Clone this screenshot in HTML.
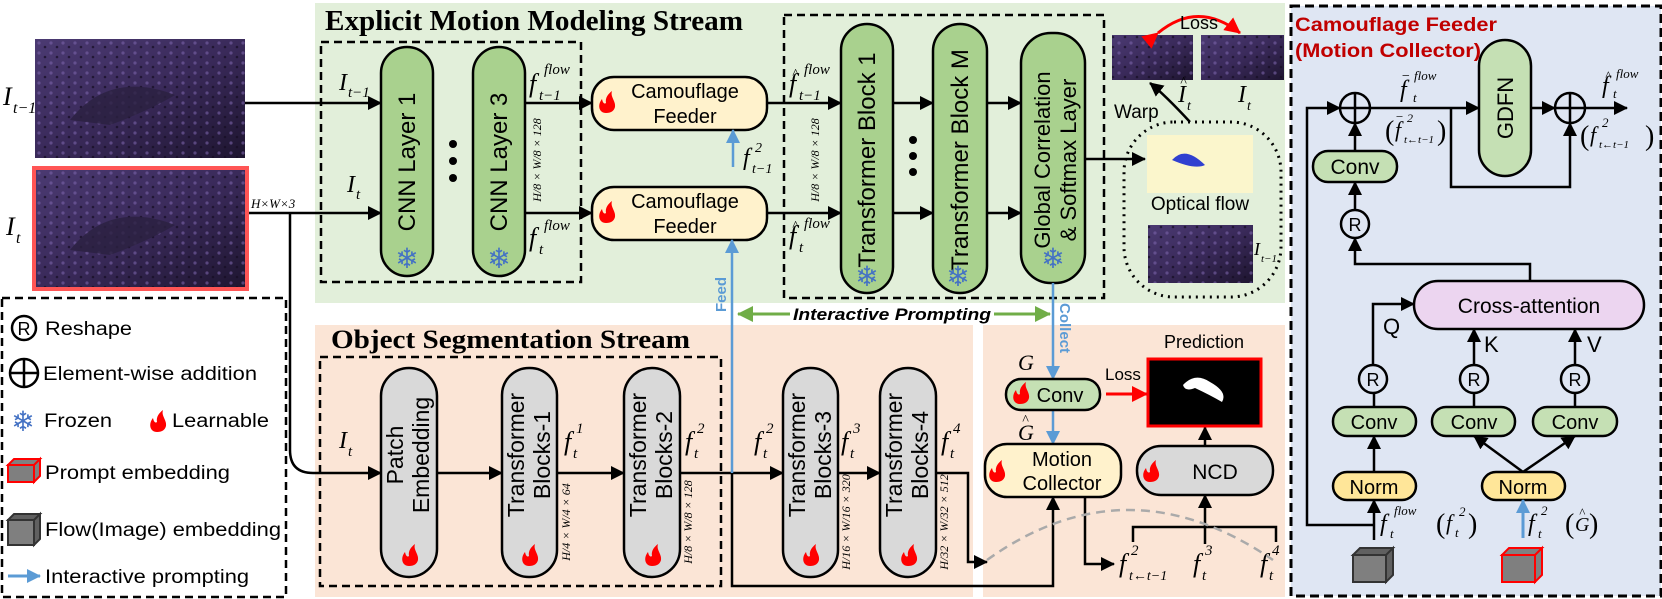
<!DOCTYPE html>
<html><head><meta charset="utf-8"><style>html,body{margin:0;padding:0;background:#fff}svg{display:block}</style></head><body>
<svg width="1662" height="599" viewBox="0 0 1662 599" xmlns="http://www.w3.org/2000/svg" font-family="Liberation Sans, sans-serif">
<defs>
<marker id="a" markerWidth="14" markerHeight="14" refX="13" refY="7" orient="auto" markerUnits="userSpaceOnUse"><path d="M0,0 L14,7 L0,14z" fill="#000"/></marker>
<marker id="b" markerWidth="14" markerHeight="14" refX="13" refY="7" orient="auto" markerUnits="userSpaceOnUse"><path d="M0,0 L14,7 L0,14z" fill="#5b9bd5"/></marker>
<marker id="r" markerWidth="16" markerHeight="16" refX="15" refY="8" orient="auto" markerUnits="userSpaceOnUse"><path d="M0,0 L16,8 L0,16z" fill="#f00"/></marker>
<marker id="g" markerWidth="16" markerHeight="16" refX="15" refY="8" orient="auto" markerUnits="userSpaceOnUse"><path d="M0,0 L16,8 L0,16z" fill="#70ad47"/></marker>
<linearGradient id="ph" x1="0" y1="0" x2="1" y2="1"><stop offset="0" stop-color="#4b3a72"/><stop offset="0.5" stop-color="#3a2a5a"/><stop offset="1" stop-color="#1e1530"/></linearGradient>
<pattern id="tex" width="12" height="10" patternUnits="userSpaceOnUse"><rect width="12" height="10" fill="none"/><circle cx="3" cy="3" r="1.6" fill="#7a62a8" opacity="0.6"/><circle cx="9" cy="7" r="1.3" fill="#150d22" opacity="0.7"/></pattern>
<g id="fire"><path d="M0,0 C-7,0 -9,-8 -4,-14 C-3,-9 -1,-9 0,-10 C-1,-15 2,-19 6,-22 C4,-16 10,-12 9,-6 C8,-2 5,0 0,0Z" fill="#f00"/></g>
</defs>

<rect x="315" y="3" width="970" height="300" fill="#e2efda"/>
<rect x="315" y="325" width="658" height="272" fill="#fbe5d6"/>
<rect x="983" y="325" width="302" height="272" fill="#fbe5d6"/>
<rect x="1291" y="6" width="370" height="590" fill="#dfe6f3" stroke="#000" stroke-width="3" stroke-dasharray="9,5"/>

<rect x="35" y="39" width="210" height="119" fill="url(#ph)"/>
<rect x="35" y="39" width="210" height="119" fill="url(#tex)"/>
<path d="M70,120 Q110,70 175,95 Q150,110 110,125 Z" fill="#2a2040" opacity="0.8"/>
<rect x="34" y="168" width="213" height="121" fill="url(#ph)" stroke="#f55" stroke-width="4"/>
<rect x="36" y="170" width="209" height="117" fill="url(#tex)"/>
<path d="M70,250 Q110,200 175,225 Q150,240 110,255 Z" fill="#2a2040" opacity="0.8"/>
<text x="3" y="105" font-family="Liberation Serif, serif" font-style="italic" font-size="26">I</text>
<text x="13" y="113" font-family="Liberation Serif, serif" font-style="italic" font-size="16">t−1</text>
<text x="6" y="235" font-family="Liberation Serif, serif" font-style="italic" font-size="26">I</text>
<text x="16" y="243" font-family="Liberation Serif, serif" font-style="italic" font-size="16">t</text>
<text x="251" y="208" font-family="Liberation Serif, serif" font-style="italic" font-size="13">H×W×3</text>

<text x="325" y="30" font-family="Liberation Serif, serif" font-weight="bold" font-size="28" textLength="418" lengthAdjust="spacingAndGlyphs">Explicit Motion Modeling Stream</text>
<text x="331" y="348" font-family="Liberation Serif, serif" font-weight="bold" font-size="26" textLength="359" lengthAdjust="spacingAndGlyphs">Object Segmentation Stream</text>

<g fill="none" stroke="#000" stroke-width="2.5" stroke-dasharray="8,5">
<rect x="321" y="42" width="260" height="240"/>
<rect x="784" y="15" width="320" height="283"/>
<rect x="320" y="357" width="401" height="229"/>
<rect x="2" y="298" width="284" height="299"/>
</g>
<rect x="1124" y="122" width="157" height="175" rx="50" fill="none" stroke="#000" stroke-width="3" stroke-dasharray="2,5"/>

<g stroke="#000" stroke-width="2.5">
<rect x="381" y="47" width="52" height="229" rx="26" fill="#a9d18e"/>
<rect x="473" y="47" width="52" height="229" rx="26" fill="#a9d18e"/>
<rect x="841" y="24" width="52" height="269" rx="26" fill="#a9d18e"/>
<rect x="933" y="24" width="54" height="269" rx="27" fill="#a9d18e"/>
<rect x="1021" y="33" width="64" height="250" rx="30" fill="#a9d18e"/>
<rect x="592" y="77" width="175" height="53" rx="22" fill="#fff2cc"/>
<rect x="592" y="187" width="175" height="53" rx="22" fill="#fff2cc"/>
</g>
<g font-size="24" text-anchor="middle">
<text transform="translate(415,162) rotate(-90)">CNN Layer 1</text>
<text transform="translate(507,162) rotate(-90)">CNN Layer 3</text>
<text transform="translate(875,160) rotate(-90)">Transformer Block 1</text>
<text transform="translate(968,160) rotate(-90)">Transformer Block M</text>
<text transform="translate(1050,160) rotate(-90)" font-size="22">Global Correlation</text>
<text transform="translate(1076,160) rotate(-90)" font-size="22">&amp; Softmax Layer</text>
</g>
<g font-size="20" text-anchor="middle">
<text x="685" y="98">Camouflage</text><text x="685" y="123">Feeder</text>
<text x="685" y="208">Camouflage</text><text x="685" y="233">Feeder</text>
</g>
<use href="#fire" x="606" y="113"/><use href="#fire" x="606" y="223"/>
<g fill="#4472c4" font-size="28" text-anchor="middle" font-family="DejaVu Sans, sans-serif">
<text x="407" y="268">❄</text><text x="499" y="268">❄</text><text x="867" y="286">❄</text><text x="958" y="286">❄</text><text x="1053" y="268">❄</text>
</g>
<g fill="#000"><circle cx="453" cy="144" r="4"/><circle cx="453" cy="161" r="4"/><circle cx="453" cy="178" r="4"/>
<circle cx="913" cy="140" r="4"/><circle cx="913" cy="156" r="4"/><circle cx="913" cy="172" r="4"/></g>

<g font-family="Liberation Serif, serif" font-style="italic">
<text x="339" y="90" font-size="24">I</text><text x="348" y="97" font-size="15">t−1</text>
<text x="347" y="192" font-size="24">I</text><text x="356" y="199" font-size="15">t</text>
<text x="529" y="92" font-size="26">f</text><text x="544" y="74" font-size="15">flow</text><text x="539" y="100" font-size="15">t−1</text>
<text x="529" y="246" font-size="26">f</text><text x="544" y="230" font-size="15">flow</text><text x="539" y="254" font-size="15">t</text>
<text x="743" y="165" font-size="24">f</text><text x="755" y="152" font-size="14">2</text><text x="752" y="173" font-size="14">t−1</text>
<text x="789" y="92" font-size="26">f</text><text x="792" y="78" font-size="14">^</text><text x="804" y="74" font-size="15">flow</text><text x="799" y="100" font-size="15">t−1</text>
<text x="789" y="244" font-size="26">f</text><text x="792" y="230" font-size="14">^</text><text x="804" y="228" font-size="15">flow</text><text x="799" y="252" font-size="15">t</text>
</g>
<g font-family="Liberation Serif, serif" font-style="italic" font-size="12" text-anchor="middle">
<text transform="translate(541,160) rotate(-90)">H/8 × W/8 × 128</text>
<text transform="translate(819,160) rotate(-90)">H/8 × W/8 × 128</text>
<text transform="translate(570,522) rotate(-90)">H/4 × W/4 × 64</text>
<text transform="translate(692,522) rotate(-90)">H/8 × W/8 × 128</text>
<text transform="translate(850,522) rotate(-90)">H/16 × W/16 × 320</text>
<text transform="translate(948,522) rotate(-90)">H/32 × W/32 × 512</text>
</g>

<g stroke="#000" stroke-width="2.5" fill="none" marker-end="url(#a)">
<path d="M245,103 H381"/><path d="M249,213 H381"/>
<path d="M525,103 H592"/><path d="M525,213 H592"/>
<path d="M767,103 H841"/><path d="M767,213 H841"/>
<path d="M893,103 H933"/><path d="M893,213 H933"/>
<path d="M987,103 H1021"/><path d="M987,213 H1021"/>
<path d="M1085,159 H1145"/>
<path d="M290,213 V450 Q290,473 313,473 H381"/>
<path d="M437,473 H502"/><path d="M557,473 H624"/><path d="M680,473 H783"/><path d="M838,473 H880"/>
<path d="M936,473 H968 V562 H987"/>
<path d="M732,473 V586 H1053 V497"/>
<path d="M1205,446 V427"/>
<path d="M1205,544 V495"/>
<path d="M1085,497 V564 H1114"/>
<path d="M1190,122 Q1165,95 1150,83"/>
</g>
<path d="M1133,542 V527 H1276 V542" stroke="#000" stroke-width="2.5" fill="none"/>
<path d="M987,560 Q1127,460 1273,560" stroke="#aaa" stroke-width="2.5" fill="none" stroke-dasharray="9,6"/>

<g stroke="#5b9bd5" stroke-width="2.5" fill="none" marker-end="url(#b)">
<path d="M733,167 V130"/><path d="M732,473 V240"/><path d="M1053,283 V379"/><path d="M1053,410 V444"/>
</g>
<text transform="translate(726,312) rotate(-90)" fill="#5b9bd5" font-weight="bold" font-size="15">Feed</text>
<text transform="translate(1060,303) rotate(90)" fill="#5b9bd5" font-weight="bold" font-size="15">Collect</text>
<path d="M790,314 H738" stroke="#70ad47" stroke-width="3" marker-end="url(#g)"/>
<path d="M994,314 H1050" stroke="#70ad47" stroke-width="3" marker-end="url(#g)"/>
<text x="793" y="320" font-weight="bold" font-style="italic" font-size="17" textLength="198" lengthAdjust="spacingAndGlyphs">Interactive Prompting</text>

<rect x="1112" y="35" width="81" height="45" fill="url(#ph)"/><rect x="1112" y="35" width="81" height="45" fill="url(#tex)"/>
<rect x="1201" y="35" width="83" height="45" fill="url(#ph)"/><rect x="1201" y="35" width="83" height="45" fill="url(#tex)"/>
<path d="M1158,33 Q1198,0 1240,33" stroke="#f00" stroke-width="3" fill="none" marker-end="url(#r)" marker-start="url(#r)"/>
<text x="1180" y="29" font-size="18">Loss</text>
<rect x="1147" y="135" width="106" height="58" fill="#fbf6cc"/>
<path d="M1172,160 Q1185,145 1205,165 Q1195,170 1172,160Z" fill="#3040d0"/>
<text x="1200" y="210" font-size="19" text-anchor="middle">Optical flow</text>
<rect x="1148" y="225" width="105" height="58" fill="url(#ph)"/><rect x="1148" y="225" width="105" height="58" fill="url(#tex)"/>
<text x="1114" y="118" font-size="19">Warp</text>
<g font-family="Liberation Serif, serif" font-style="italic">
<text x="1178" y="102" font-size="24">I</text><text x="1180" y="86" font-size="14">^</text><text x="1187" y="110" font-size="14">t</text>
<text x="1238" y="102" font-size="24">I</text><text x="1247" y="110" font-size="14">t</text>
<text x="1254" y="255" font-size="18">I</text><text x="1261" y="262" font-size="11">t−1</text>
</g>

<g stroke="#000" stroke-width="2.5" fill="#d9d9d9">
<rect x="381" y="368" width="56" height="209" rx="28"/>
<rect x="502" y="368" width="55" height="209" rx="27"/>
<rect x="624" y="368" width="56" height="209" rx="28"/>
<rect x="783" y="368" width="55" height="209" rx="27"/>
<rect x="880" y="368" width="56" height="209" rx="28"/>
<rect x="1137" y="446" width="136" height="49" rx="24"/>
<rect x="985" y="444" width="136" height="53" rx="22" fill="#fff2cc"/>
<rect x="1006" y="379" width="94" height="31" rx="15" fill="#c5e0b4"/>
</g>
<g font-size="23" text-anchor="middle">
<text transform="translate(403,455) rotate(-90)">Patch</text>
<text transform="translate(429,455) rotate(-90)">Embedding</text>
<text transform="translate(524,455) rotate(-90)">Transformer</text>
<text transform="translate(550,455) rotate(-90)">Blocks-1</text>
<text transform="translate(646,455) rotate(-90)">Transformer</text>
<text transform="translate(672,455) rotate(-90)">Blocks-2</text>
<text transform="translate(805,455) rotate(-90)">Transformer</text>
<text transform="translate(831,455) rotate(-90)">Blocks-3</text>
<text transform="translate(902,455) rotate(-90)">Transformer</text>
<text transform="translate(928,455) rotate(-90)">Blocks-4</text>
</g>
<use href="#fire" x="409" y="566"/><use href="#fire" x="529" y="566"/><use href="#fire" x="652" y="566"/><use href="#fire" x="810" y="566"/><use href="#fire" x="908" y="566"/>
<g font-family="Liberation Serif, serif" font-style="italic">
<text x="339" y="448" font-size="24">I</text><text x="348" y="456" font-size="15">t</text>
<text x="564" y="450" font-size="26">f</text><text x="576" y="433" font-size="15">1</text><text x="573" y="458" font-size="15">t</text>
<text x="685" y="450" font-size="26">f</text><text x="697" y="433" font-size="15">2</text><text x="694" y="458" font-size="15">t</text>
<text x="754" y="450" font-size="26">f</text><text x="766" y="433" font-size="15">2</text><text x="763" y="458" font-size="15">t</text>
<text x="841" y="450" font-size="26">f</text><text x="853" y="433" font-size="15">3</text><text x="850" y="458" font-size="15">t</text>
<text x="941" y="450" font-size="26">f</text><text x="953" y="433" font-size="15">4</text><text x="950" y="458" font-size="15">t</text>
<text x="1018" y="370" font-size="22">G</text>
<text x="1018" y="440" font-size="22">G</text><text x="1022" y="424" font-size="14">^</text>
<text x="1119" y="572" font-size="26">f</text><text x="1131" y="555" font-size="15">2</text><text x="1129" y="580" font-size="14">t←t−1</text>
<text x="1193" y="572" font-size="26">f</text><text x="1205" y="555" font-size="15">3</text><text x="1202" y="580" font-size="15">t</text>
<text x="1260" y="572" font-size="26">f</text><text x="1272" y="555" font-size="15">4</text><text x="1269" y="580" font-size="15">t</text>
</g>
<text x="1060" y="402" font-size="20" text-anchor="middle">Conv</text><use href="#fire" x="1020" y="404"/>
<text x="1062" y="466" font-size="20" text-anchor="middle">Motion</text><text x="1062" y="490" font-size="20" text-anchor="middle">Collector</text>
<use href="#fire" x="996" y="482"/>
<text x="1215" y="479" font-size="21" text-anchor="middle">NCD</text><use href="#fire" x="1150" y="482"/>
<text x="1105" y="380" font-size="17">Loss</text>
<path d="M1106,394 H1147" stroke="#f00" stroke-width="3" marker-end="url(#r)"/>
<text x="1204" y="348" font-size="18" text-anchor="middle">Prediction</text>
<rect x="1148" y="359" width="113" height="67" fill="#000" stroke="#f00" stroke-width="3"/>
<path d="M1183,385 Q1195,372 1210,382 Q1228,392 1222,402 Q1210,395 1195,388 Q1185,392 1183,385Z" fill="#fff"/>

<circle cx="24" cy="328" r="12" fill="none" stroke="#000" stroke-width="2.5"/><text x="24" y="335" font-size="18" text-anchor="middle">R</text>
<text x="45" y="335" font-size="19" textLength="87" lengthAdjust="spacingAndGlyphs">Reshape</text>
<circle cx="24" cy="373" r="14" fill="none" stroke="#000" stroke-width="2.5"/><path d="M10,373 H38 M24,359 V387" stroke="#000" stroke-width="2.5"/>
<text x="43" y="380" font-size="19" textLength="214" lengthAdjust="spacingAndGlyphs">Element-wise addition</text>
<text x="23" y="431" font-size="28" fill="#4472c4" text-anchor="middle" font-family="DejaVu Sans, sans-serif">❄</text>
<text x="44" y="427" font-size="19" textLength="68" lengthAdjust="spacingAndGlyphs">Frozen</text>
<use href="#fire" x="157" y="432"/>
<text x="172" y="427" font-size="19" textLength="97" lengthAdjust="spacingAndGlyphs">Learnable</text>
<g stroke-width="2">
<path d="M8,465 L14,459 H40 L34,465Z M34,465 L40,459 V476 L34,482Z" fill="#808080" stroke="#f00"/><rect x="8" y="465" width="26" height="17" fill="#7f7f7f" stroke="#f00"/>
<path d="M8,520 L14,514 H40 L34,520Z M34,520 L40,514 V539 L34,545Z" fill="#606060" stroke="#333"/><rect x="8" y="520" width="26" height="25" fill="#7f7f7f" stroke="#333"/>
</g>
<text x="45" y="479" font-size="19" textLength="185" lengthAdjust="spacingAndGlyphs">Prompt embedding</text>
<text x="45" y="536" font-size="19" textLength="236" lengthAdjust="spacingAndGlyphs">Flow(Image) embedding</text>
<path d="M8,576 H40" stroke="#5b9bd5" stroke-width="3" marker-end="url(#b)"/>
<text x="45" y="583" font-size="19" textLength="204" lengthAdjust="spacingAndGlyphs">Interactive prompting</text>

<text x="1295" y="31" fill="#c00000" font-weight="bold" font-size="19" textLength="202" lengthAdjust="spacingAndGlyphs">Camouflage Feeder</text>
<text x="1295" y="57" fill="#c00000" font-weight="bold" font-size="19" textLength="186" lengthAdjust="spacingAndGlyphs">(Motion Collector)</text>
<g stroke="#000" stroke-width="2.5">
<rect x="1479" y="40" width="52" height="136" rx="26" fill="#c5e0b4"/>
<rect x="1313" y="151" width="84" height="31" rx="15" fill="#c5e0b4"/>
<rect x="1414" y="281" width="230" height="48" rx="24" fill="#ecd5f0"/>
<rect x="1333" y="407" width="83" height="29" rx="14" fill="#c5e0b4"/>
<rect x="1432" y="407" width="83" height="29" rx="14" fill="#c5e0b4"/>
<rect x="1533" y="407" width="84" height="29" rx="14" fill="#c5e0b4"/>
<rect x="1333" y="472" width="83" height="28" rx="14" fill="#ffe699"/>
<rect x="1482" y="472" width="83" height="28" rx="14" fill="#ffe699"/>
</g>
<g stroke="#000" stroke-width="2.5" fill="none" marker-end="url(#a)">
<path d="M1374,525 H1307 V108 H1340"/>
<path d="M1370,108 H1479"/>
<path d="M1451,108 V187 H1570 V123"/>
<path d="M1531,108 H1555"/>
<path d="M1585,108 H1627"/>
<path d="M1355,151 V123"/>
<path d="M1355,210 V182"/>
<path d="M1530,281 V264 H1355 V238"/>
<path d="M1373,365 V304 H1414"/>
<path d="M1474,365 V329"/>
<path d="M1575,365 V329"/>
<path d="M1374,472 V436"/>
<path d="M1523,472 Q1500,455 1474,436"/>
<path d="M1523,472 Q1548,455 1575,436"/>
<path d="M1374,540 V500"/>
</g>
<g stroke="#000" stroke-width="2.5" fill="none">
<path d="M1374,393 V407 M1474,393 V407 M1575,393 V407"/>
<circle cx="1355" cy="108" r="15"/><path d="M1340,108 H1370 M1355,93 V123"/>
<circle cx="1570" cy="108" r="15"/><path d="M1555,108 H1585 M1570,93 V123"/>
<circle cx="1355" cy="224" r="14"/><circle cx="1373" cy="379" r="14"/><circle cx="1474" cy="379" r="14"/><circle cx="1575" cy="379" r="14"/>
</g>
<path d="M1523,538 V500" stroke="#5b9bd5" stroke-width="3" marker-end="url(#b)"/>
<g font-size="18" text-anchor="middle"><text x="1355" y="231">R</text><text x="1373" y="386">R</text><text x="1474" y="386">R</text><text x="1575" y="386">R</text></g>
<text transform="translate(1513,108) rotate(-90)" font-size="22" text-anchor="middle">GDFN</text>
<text x="1355" y="174" font-size="21" text-anchor="middle">Conv</text>
<text x="1529" y="313" font-size="21" text-anchor="middle">Cross-attention</text>
<g font-size="20" text-anchor="middle"><text x="1374" y="429">Conv</text><text x="1474" y="429">Conv</text><text x="1575" y="429">Conv</text><text x="1374" y="494">Norm</text><text x="1523" y="494">Norm</text></g>
<g font-size="22"><text x="1383" y="334">Q</text><text x="1484" y="352">K</text><text x="1587" y="352">V</text></g>
<g font-family="Liberation Serif, serif" font-style="italic">
<text x="1400" y="97" font-size="24">f</text><text x="1401" y="80" font-size="14">−</text><text x="1414" y="80" font-size="13">flow</text><text x="1413" y="102" font-size="13">t</text>
<text x="1385" y="140" font-size="28" font-style="normal">(</text><text x="1395" y="137" font-size="22">f</text><text x="1395" y="121" font-size="13">−</text><text x="1407" y="122" font-size="12">2</text><text x="1404" y="143" font-size="11">t←t−1</text><text x="1437" y="140" font-size="28" font-style="normal">)</text>
<text x="1602" y="93" font-size="24">f</text><text x="1605" y="80" font-size="13">^</text><text x="1616" y="78" font-size="13">flow</text><text x="1613" y="98" font-size="13">t</text>
<text x="1580" y="145" font-size="28" font-style="normal">(</text><text x="1590" y="142" font-size="22">f</text><text x="1602" y="127" font-size="13">2</text><text x="1599" y="148" font-size="11">t←t−1</text><text x="1645" y="145" font-size="28" font-style="normal">)</text>
<text x="1380" y="531" font-size="24">f</text><text x="1394" y="515" font-size="13">flow</text><text x="1390" y="538" font-size="13">t</text>
<text x="1436" y="533" font-size="28" font-style="normal">(</text><text x="1446" y="530" font-size="22">f</text><text x="1459" y="516" font-size="13">2</text><text x="1455" y="537" font-size="13">t</text><text x="1468" y="533" font-size="28" font-style="normal">)</text>
<text x="1528" y="531" font-size="24">f</text><text x="1541" y="515" font-size="13">2</text><text x="1538" y="538" font-size="13">t</text>
<text x="1565" y="533" font-size="28" font-style="normal">(</text><text x="1575" y="531" font-size="20">G</text><text x="1579" y="517" font-size="13">^</text><text x="1589" y="533" font-size="28" font-style="normal">)</text>
</g>
<g stroke-width="2">
<path d="M1353,555 L1360,548 H1393 L1386,555Z M1386,555 L1393,548 V575 L1386,582Z" fill="#606060" stroke="#333"/><rect x="1353" y="555" width="33" height="27" fill="#7f7f7f" stroke="#333"/>
<path d="M1502,555 L1509,548 H1542 L1535,555Z M1535,555 L1542,548 V575 L1535,582Z" fill="#808080" stroke="#f00"/><rect x="1502" y="555" width="33" height="27" fill="#7f7f7f" stroke="#f00"/>
</g>
</svg>
</body></html>
